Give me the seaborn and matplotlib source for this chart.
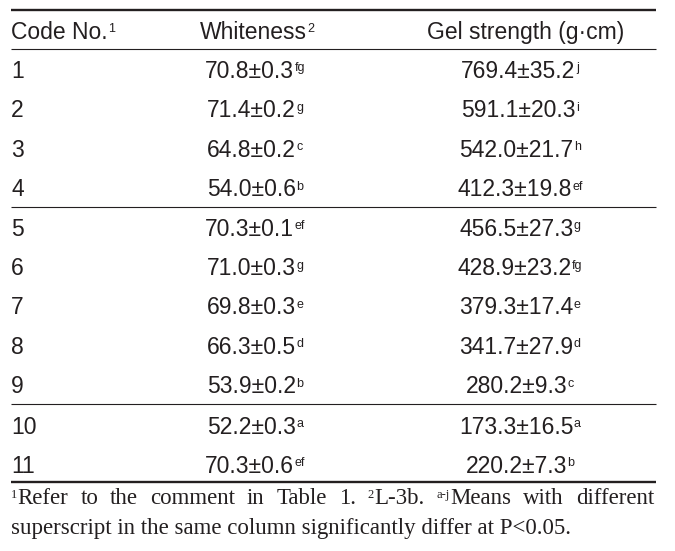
"""
Table 2 style summary: whiteness and gel strength per sample code
"""

import matplotlib
matplotlib.use('Agg')
import matplotlib.pyplot as plt
import seaborn as sns


# Table data
codes = ['1', '2', '3', '4', '5', '6', '7', '8', '9', '10', '11']
whiteness_mean = [70.8, 71.4, 64.8, 54.0, 70.3, 71.0, 69.8, 66.3, 53.9, 52.2, 70.3]
whiteness_sd = [0.3, 0.2, 0.2, 0.6, 0.1, 0.3, 0.3, 0.5, 0.2, 0.3, 0.6]
whiteness_sig = ['fg', 'g', 'c', 'b', 'ef', 'g', 'e', 'd', 'b', 'a', 'ef']
gel_mean = [769.4, 591.1, 542.0, 412.3, 456.5, 428.9, 379.3, 341.7, 280.2, 173.3, 220.2]
gel_sd = [35.2, 20.3, 21.7, 19.8, 27.3, 23.2, 17.4, 27.9, 9.3, 16.5, 7.3]
gel_sig = ['j', 'i', 'h', 'ef', 'g', 'fg', 'e', 'd', 'c', 'a', 'b']
groups = [4, 5, 2]  # rows per block, separated by thin rules

headers = ['Code No.', 'Whiteness', 'Gel strength (g\u00b7cm)']
header_sup = ['1', '2', '']

footnote_line1 = [[('1', True), ('Refer', False)], [('to', False)], [('the', False)],
                  [('comment', False)], [('in', False)], [('Table', False)], [('1.', False)],
                  [('2', True), ('L-3b.', False)], [('a-j', True), ('Means', False)],
                  [('with', False)], [('different', False)]]
footnote_line2 = 'superscript in the same column significantly differ at P<0.05.'


# Style
sns.set_theme(style='white')
SANS = ['Liberation Sans', 'DejaVu Sans']
SERIF = ['Liberation Serif', 'DejaVu Serif']
plt.rcParams['font.family'] = SANS
INK = '#231f20'

fig = plt.figure(figsize=(6.75, 5.51), dpi=100)
ax = fig.add_axes([0, 0, 1, 1])
ax.set_xlim(0, 675)
ax.set_ylim(551, 0)
ax.axis('off')
renderer = fig.canvas.get_renderer()

LEFT, RIGHT = 11, 656
COL_X = [11, 255, 520]
HEAD_X = [11, 257, 526]


def text_width(t):
    return t.get_window_extent(renderer).width


def cell(x, y, main, sup='', ha='center', size=16.5, sup_size=9, rise=6.5, family=SANS):
    """Draw a text with an optional superscript; x is left edge or centre."""
    t = ax.text(0, y, main, fontsize=size, family=family, color=INK,
                ha='left', va='baseline')
    w = text_width(t) + 0.3
    s, ws = None, 0
    if sup:
        s = ax.text(0, y - rise, sup, fontsize=sup_size, family=family, color=INK,
                    ha='left', va='baseline')
        ws = text_width(s)
    x0 = x - (w + ws) / 2 if ha == 'center' else x
    t.set_x(x0)
    if s is not None:
        s.set_x(x0 + w)
    return w + ws


# Rules
ax.hlines(10, LEFT, RIGHT, color=INK, lw=1.7)
ax.hlines(49, LEFT, RIGHT, color=INK, lw=0.8)

# Header
for i, (h, hs) in enumerate(zip(headers, header_sup)):
    cell(HEAD_X[i], 39, h, hs, ha='left' if i == 0 else 'center')

# Body rows
step = 39.4
y = 78
row = 0
for g, n in enumerate(groups):
    for k in range(n):
        cell(COL_X[0], y, codes[row], ha='left')
        cell(COL_X[1], y, f'{whiteness_mean[row]:.1f}\u00b1{whiteness_sd[row]:.1f}',
             whiteness_sig[row])
        cell(COL_X[2], y, f'{gel_mean[row]:.1f}\u00b1{gel_sd[row]:.1f}', gel_sig[row])
        row += 1
        if k < n - 1:
            y += step
    if g < len(groups) - 1:
        ax.hlines(y + 10.7, LEFT, RIGHT, color=INK, lw=0.8)
        y += step + (1.0 if g == 1 else 0)
ax.hlines(y + 8.8, LEFT, RIGHT, color=INK, lw=1.7)

# Footnote, first line justified to the table width
fn_size, fn_sup = 16.5, 9
widths = []
for word in footnote_line1:
    tmp = []
    for txt, is_sup in word:
        t = ax.text(0, 0, txt, fontsize=fn_sup if is_sup else fn_size, family=SERIF)
        tmp.append(text_width(t))
        t.remove()
    widths.append(sum(tmp) + 0.3 * (len(tmp) - 1))
gap = (RIGHT - 2 - LEFT - sum(widths)) / (len(widths) - 1)
x = LEFT
for word in footnote_line1:
    for txt, is_sup in word:
        t = ax.text(x, 504 - (6 if is_sup else 0), txt,
                    fontsize=fn_sup if is_sup else fn_size, family=SERIF,
                    color=INK, ha='left', va='baseline')
        x += text_width(t) + 0.3
    x += gap - 0.3

ax.text(LEFT, 534, footnote_line2, fontsize=fn_size, family=SERIF, color=INK,
        ha='left', va='baseline')

fig.savefig('out.png', dpi=100, facecolor='white')
plt.close(fig)
